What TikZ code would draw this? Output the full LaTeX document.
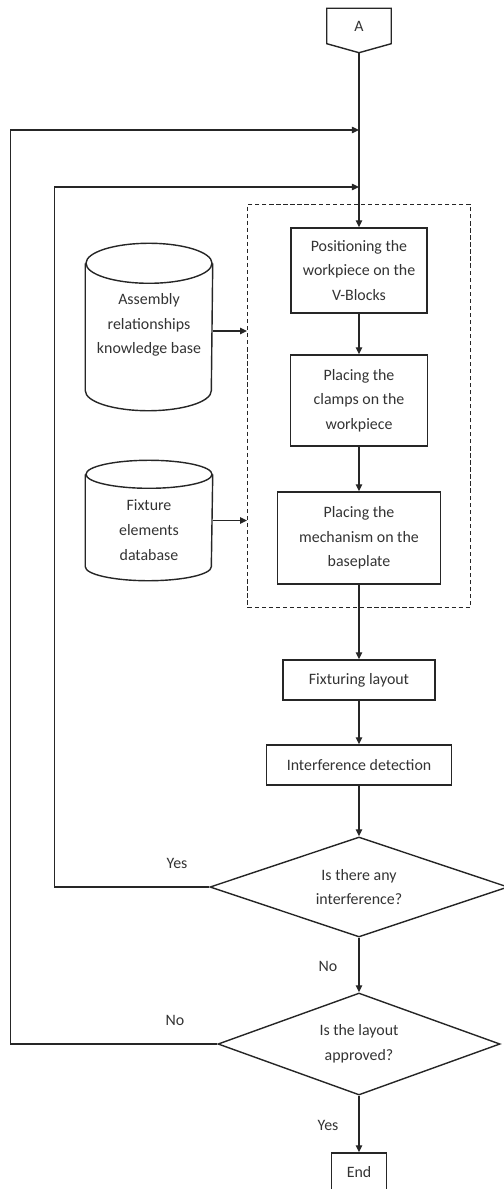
\documentclass[tikz,border=0pt]{standalone}
\usepackage{fontspec}
\setmainfont{Carlito}
\usetikzlibrary{shapes.geometric, arrows.meta, fit}

\begin{document}
\begin{tikzpicture}[x=0.025cm, y=-0.025cm, line width=1pt, draw=black!85,
	every node/.style={font=\fontsize{11.3}{17.5}\selectfont, align=center, text=black!80},
	box/.style={draw, inner sep=2pt},
	db/.style={minimum width=3.15cm, inner sep=0pt},
	decision/.style={draw, diamond, aspect=3, inner sep=0pt},
	>={Triangle[length=5pt, width=4.5pt]}]

	\useasboundingbox (0,0) rectangle (504,1189);

	\node[minimum width=1.575cm, minimum height=0.85cm, inner sep=0pt] (A) at (359,26) {A};
	\coordinate (Atip) at ([yshift=-0.225cm]A.south);
	\draw (A.north west) -- (A.north east) -- (A.south east) -- (Atip) -- (A.south west) -- cycle;

	\coordinate (m1) at (359,130);
	\coordinate (m2) at (359,187);

	\node[box, minimum width=3.4cm, minimum height=2.125cm] (b1) at (359,270.5) {Positioning the\\workpiece on the\\V-Blocks};
	\node[box, minimum width=3.425cm, minimum height=2.275cm] (b2) at (359,400.5) {Placing the\\clamps on the\\workpiece};
	\node[box, minimum width=4.075cm, minimum height=2.3cm] (b3) at (359,538) {Placing the\\mechanism on the\\baseplate};
	\node[draw, dash pattern=on 3pt off 2pt, inner xsep=0.725cm, inner ysep=0.575cm, fit=(b1)(b2)(b3)] (grp) {};

	\node[db, minimum height=4.15cm] (kb) at (149,327) {};
	\node (kbt) at (149,325) {Assembly\\relationships\\knowledge base};
	\node[db, minimum height=2.975cm] (fdb) at (149,520.5) {};
	\node (fdbt) at (149,530) {Fixture\\elements\\database};

	\foreach \c/\r in {kb/0.5, fdb/0.35} {
		\draw ([yshift=-\r cm]\c.north west) -- ([yshift=\r cm]\c.south west) arc[start angle=180, end angle=360, x radius=1.575cm, y radius=\r cm] -- ([yshift=-\r cm]\c.north east);
		\draw ([yshift=-\r cm]\c.north) ellipse [x radius=1.575cm, y radius=\r cm];
	}

	\node[box, minimum width=3.8cm, minimum height=1cm] (lay) at (359,680) {Fixturing layout};
	\node[box, minimum width=4.625cm, minimum height=1cm] (det) at (359,765) {Interference detection};
	\node[decision, minimum width=7.45cm, minimum height=2.5cm] (q1) at (359,887) {Is there any\\interference?};
	\node[decision, minimum width=7.05cm, minimum height=2.55cm] (q2) at (359,1044) {Is the layout\\approved?};
	\node[box, minimum width=1.375cm, minimum height=0.95cm] (end) at (359,1172) {End};

	\node (y1) at (177,863) {Yes};
	\node (n1) at (328,966) {No};
	\node (n2) at (175,1020) {No};
	\node (y2) at (328,1125) {Yes};

	\draw[->] (Atip) -- (b1);
	\draw[->] (b1) -- (b2);
	\draw[->] (b2) -- (b3);
	\draw[->] (b3) -- (lay);
	\draw[->] (lay) -- (det);
	\draw[->] (det) -- (q1);
	\draw[->] (q1) -- (q2);
	\draw[->] (q2) -- (end);

	\draw[->] ([yshift=-0.1cm]kb.east) -- ([yshift=-0.1cm]kb.east -| grp.west);
	\draw[->] (fdb.east) -- (fdb.east -| grp.west);

	\draw[->] (q1.west) -- ++(-155,0) |- (m2);
	\draw[->] (q2.west) -- ++(-207,0) |- (m1);

\end{tikzpicture}
\end{document}
